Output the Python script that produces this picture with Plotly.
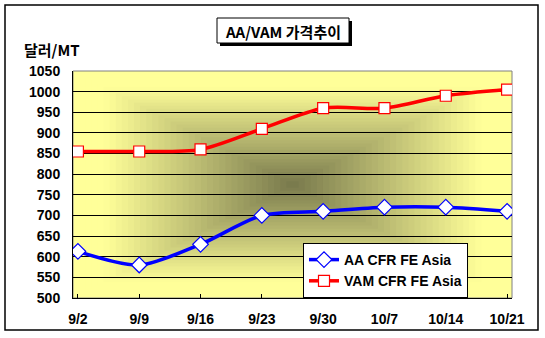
import plotly.graph_objects as go

categories = ["9/2", "9/9", "9/16", "9/23", "9/30", "10/7", "10/14", "10/21"]
aa_values = [613, 580, 630, 700, 710, 720, 720, 710]
vam_values = [855, 855, 860, 910, 960, 960, 990, 1005]
series_names = ["AA CFR FE Asia", "VAM CFR FE Asia"]
title_text = "AA/VAM 가격추이"
y_label = "달러/MT"
y_ticks = list(range(500, 1051, 50))

W, H = 545, 338
L, R, T, B = 73, 33, 71, 40
PX0, PY0 = L, H - B  # pixel of paper (0,0)

fig = go.Figure()
fig.add_trace(go.Scatter(
    x=categories, y=aa_values, name=series_names[0], mode="lines+markers",
    line=dict(color="#0000ff", width=3.5, shape="spline", smoothing=0.8),
    marker=dict(symbol="diamond", size=12, color="white", line=dict(color="#0000ff", width=1.2)),
))
fig.add_trace(go.Scatter(
    x=categories, y=vam_values, name=series_names[1], mode="lines+markers",
    line=dict(color="#ff0000", width=3.5, shape="spline", smoothing=0.8),
    marker=dict(symbol="square", size=11, color="white", line=dict(color="#ff0000", width=1.2)),
))

shapes = []
# concentric gradient background
center = (0x78, 0x79, 0x4c)
edge = (0xFF, 0xFF, 0x99)
N = 36
for i in range(N):
    s = 1 - i / N
    t = min(1.0, (s - 0.5 / N) / 0.86)
    col = tuple(round(c + (e - c) * t) for c, e in zip(center, edge))
    shapes.append(dict(
        type="rect", xref="x domain", yref="y domain",
        x0=0.5 - s / 2, x1=0.5 + s / 2, y0=0.5 - s / 2, y1=0.5 + s / 2,
        fillcolor="rgb(%d,%d,%d)" % col, line=dict(width=0), layer="below",
    ))
# plot-area gray border
shapes.append(dict(type="rect", xref="x domain", yref="y domain", x0=0, x1=1, y0=0, y1=1,
                   line=dict(color="#808080", width=1), layer="below"))

def pix_rect(x0, y0, x1, y1, **kw):
    return dict(type="rect", xref="paper", yref="paper", xanchor=0, yanchor=0,
                xsizemode="pixel", ysizemode="pixel",
                x0=x0 - PX0, x1=x1 - PX0, y0=PY0 - y1, y1=PY0 - y0, **kw)

# outer border
shapes.append(pix_rect(5, 5, 538, 330, line=dict(color="black", width=1.5), layer="above"))
# title shadow and box
shapes.append(pix_rect(220, 21, 352, 46, fillcolor="black", line=dict(width=0), layer="above"))
shapes.append(pix_rect(217, 18, 349, 43, fillcolor="white", line=dict(color="black", width=1), layer="above"))

cjk = "Noto Sans CJK KR, Arial"
annotations = [
    dict(text=title_text, xref="paper", yref="paper", x=0, y=0,
         xanchor="center", yanchor="middle", xshift=283 - PX0, yshift=PY0 - 31,
         showarrow=False, font=dict(family=cjk, size=15, color="black", weight="bold")),
    dict(text=y_label, xref="paper", yref="paper", x=0, y=0,
         xanchor="left", yanchor="middle", xshift=22 - PX0, yshift=PY0 - 49,
         showarrow=False, font=dict(family=cjk, size=15, color="black", weight="bold")),
]

fig.update_layout(
    width=W, height=H,
    margin=dict(l=L, r=R, t=T, b=B, autoexpand=False),
    paper_bgcolor="white", plot_bgcolor="#ffff99",
    shapes=shapes, annotations=annotations,
    showlegend=True,
    legend=dict(x=(303 - PX0) / (W - L - R), y=(PY0 - 243) / (H - T - B),
                xanchor="left", yanchor="top",
                bgcolor="white", bordercolor="black", borderwidth=1,
                font=dict(family="Arial", size=14, color="black", weight="bold"),
                tracegroupgap=0, itemwidth=30),
    font=dict(family="Arial", color="black"),
)
fig.update_xaxes(
    type="category", range=[-0.08, len(categories) - 1 + 0.08],
    showline=True, linecolor="black", linewidth=1, showgrid=False,
    ticks="inside", ticklen=4, tickcolor="black", automargin=False,
    tickfont=dict(family="Arial", size=14, color="black", weight="bold"),
    ticklabelstandoff=8, fixedrange=True,
)
fig.update_yaxes(
    range=[500, 1050], tick0=500, automargin=False,
    showline=True, linecolor="black", linewidth=1,
    showgrid=True, gridcolor="black", gridwidth=1, zeroline=False,
    ticks="", tickfont=dict(family="Arial", size=14, color="black", weight="bold"),
    ticklabelstandoff=9,
    tickvals=y_ticks, ticktext=[str(v) for v in y_ticks],
)
fig.write_html("out.html")
